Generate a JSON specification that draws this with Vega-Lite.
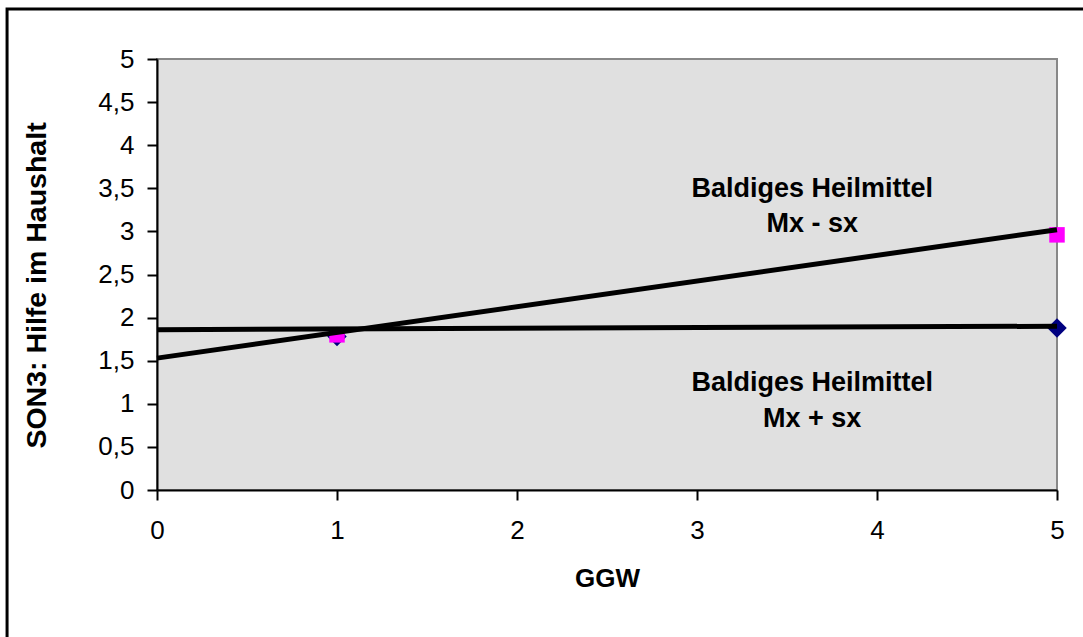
{
  "$schema": "https://vega.github.io/schema/vega-lite/v6.json",
  "width": 900,
  "height": 431,
  "autosize": {"type": "none"},
  "padding": {"left": 157, "top": 59, "right": 26, "bottom": 147},
  "background": "white",
  "config": {
    "font": "Liberation Sans",
    "view": {"fill": "#E0E0E0", "stroke": "#888888", "strokeWidth": 2},
    "axis": {
      "domainColor": "black", "domainWidth": 2,
      "tickColor": "black", "tickWidth": 2, "tickSize": 10,
      "labelFontSize": 26, "labelColor": "black", "labelFont": "Liberation Sans",
      "titleFontSize": 26, "titleFontWeight": "bold", "titleColor": "black", "titleFont": "Liberation Sans",
      "grid": false
    }
  },
  "datasets": {
    "points": [
      {"x": 1, "y": 1.78, "s": "Mx + sx"},
      {"x": 5, "y": 1.88, "s": "Mx + sx"},
      {"x": 1, "y": 1.80, "s": "Mx - sx"},
      {"x": 5, "y": 2.96, "s": "Mx - sx"}
    ],
    "trends": [
      {"x": 0, "y": 1.53, "t": "Mx - sx"},
      {"x": 5, "y": 3.02, "t": "Mx - sx"},
      {"x": 0, "y": 1.86, "t": "Mx + sx"},
      {"x": 5, "y": 1.90, "t": "Mx + sx"}
    ],
    "labels": [
      {"x": 3.64, "y": 3.49, "text": "Baldiges Heilmittel"},
      {"x": 3.64, "y": 3.09, "text": "Mx - sx"},
      {"x": 3.64, "y": 1.24, "text": "Baldiges Heilmittel"},
      {"x": 3.64, "y": 0.82, "text": "Mx + sx"}
    ]
  },
  "layer": [
    {
      "data": {"values": [{}]},
      "mark": {"type": "rect", "fill": null, "fillOpacity": 0, "stroke": "black", "strokeWidth": 3, "clip": false},
      "encoding": {
        "x": {"datum": -0.833, "type": "quantitative", "scale": {"domain": [0, 5], "nice": false, "zero": false},
          "axis": {"values": [0, 1, 2, 3, 4, 5], "format": "d", "title": "GGW", "labelPadding": 17, "titlePadding": 22, "labelFlush": false}},
        "x2": {"datum": 6.5},
        "y": {"datum": 5.58, "type": "quantitative", "scale": {"domain": [0, 5], "nice": false, "zero": false},
          "axis": {"values": [0, 0.5, 1, 1.5, 2, 2.5, 3, 3.5, 4, 4.5, 5], "format": ".1~f", "labelExpr": "replace(datum.label, '.', ',')",
            "title": "SON3: Hilfe im Haushalt", "titleFontSize": 28.5, "titleY": 226, "labelPadding": 13, "titlePadding": 46, "labelFlush": false}},
        "y2": {"datum": -3}
      }
    },
    {
      "data": {"name": "points"},
      "mark": {"type": "point", "filled": true, "opacity": 1, "clip": false},
      "encoding": {
        "x": {"field": "x", "type": "quantitative"},
        "y": {"field": "y", "type": "quantitative"},
        "shape": {"field": "s", "type": "nominal", "scale": {"domain": ["Mx + sx", "Mx - sx"], "range": ["diamond", "square"]}, "legend": null},
        "color": {"field": "s", "type": "nominal", "scale": {"domain": ["Mx + sx", "Mx - sx"], "range": ["#000080", "#FF00FF"]}, "legend": null},
        "size": {"field": "s", "type": "nominal", "scale": {"domain": ["Mx + sx", "Mx - sx"], "range": [380, 240]}, "legend": null},
        "order": {"field": "s", "sort": "ascending"}
      }
    },
    {
      "data": {"name": "trends"},
      "mark": {"type": "line", "color": "black", "strokeWidth": 5},
      "encoding": {
        "x": {"field": "x", "type": "quantitative"},
        "y": {"field": "y", "type": "quantitative"},
        "detail": {"field": "t"}
      }
    },
    {
      "data": {"name": "labels"},
      "mark": {"type": "text", "fontSize": 27, "fontWeight": "bold", "color": "black", "align": "center", "baseline": "middle", "font": "Liberation Sans"},
      "encoding": {
        "x": {"field": "x", "type": "quantitative"},
        "y": {"field": "y", "type": "quantitative"},
        "text": {"field": "text"}
      }
    }
  ]
}
